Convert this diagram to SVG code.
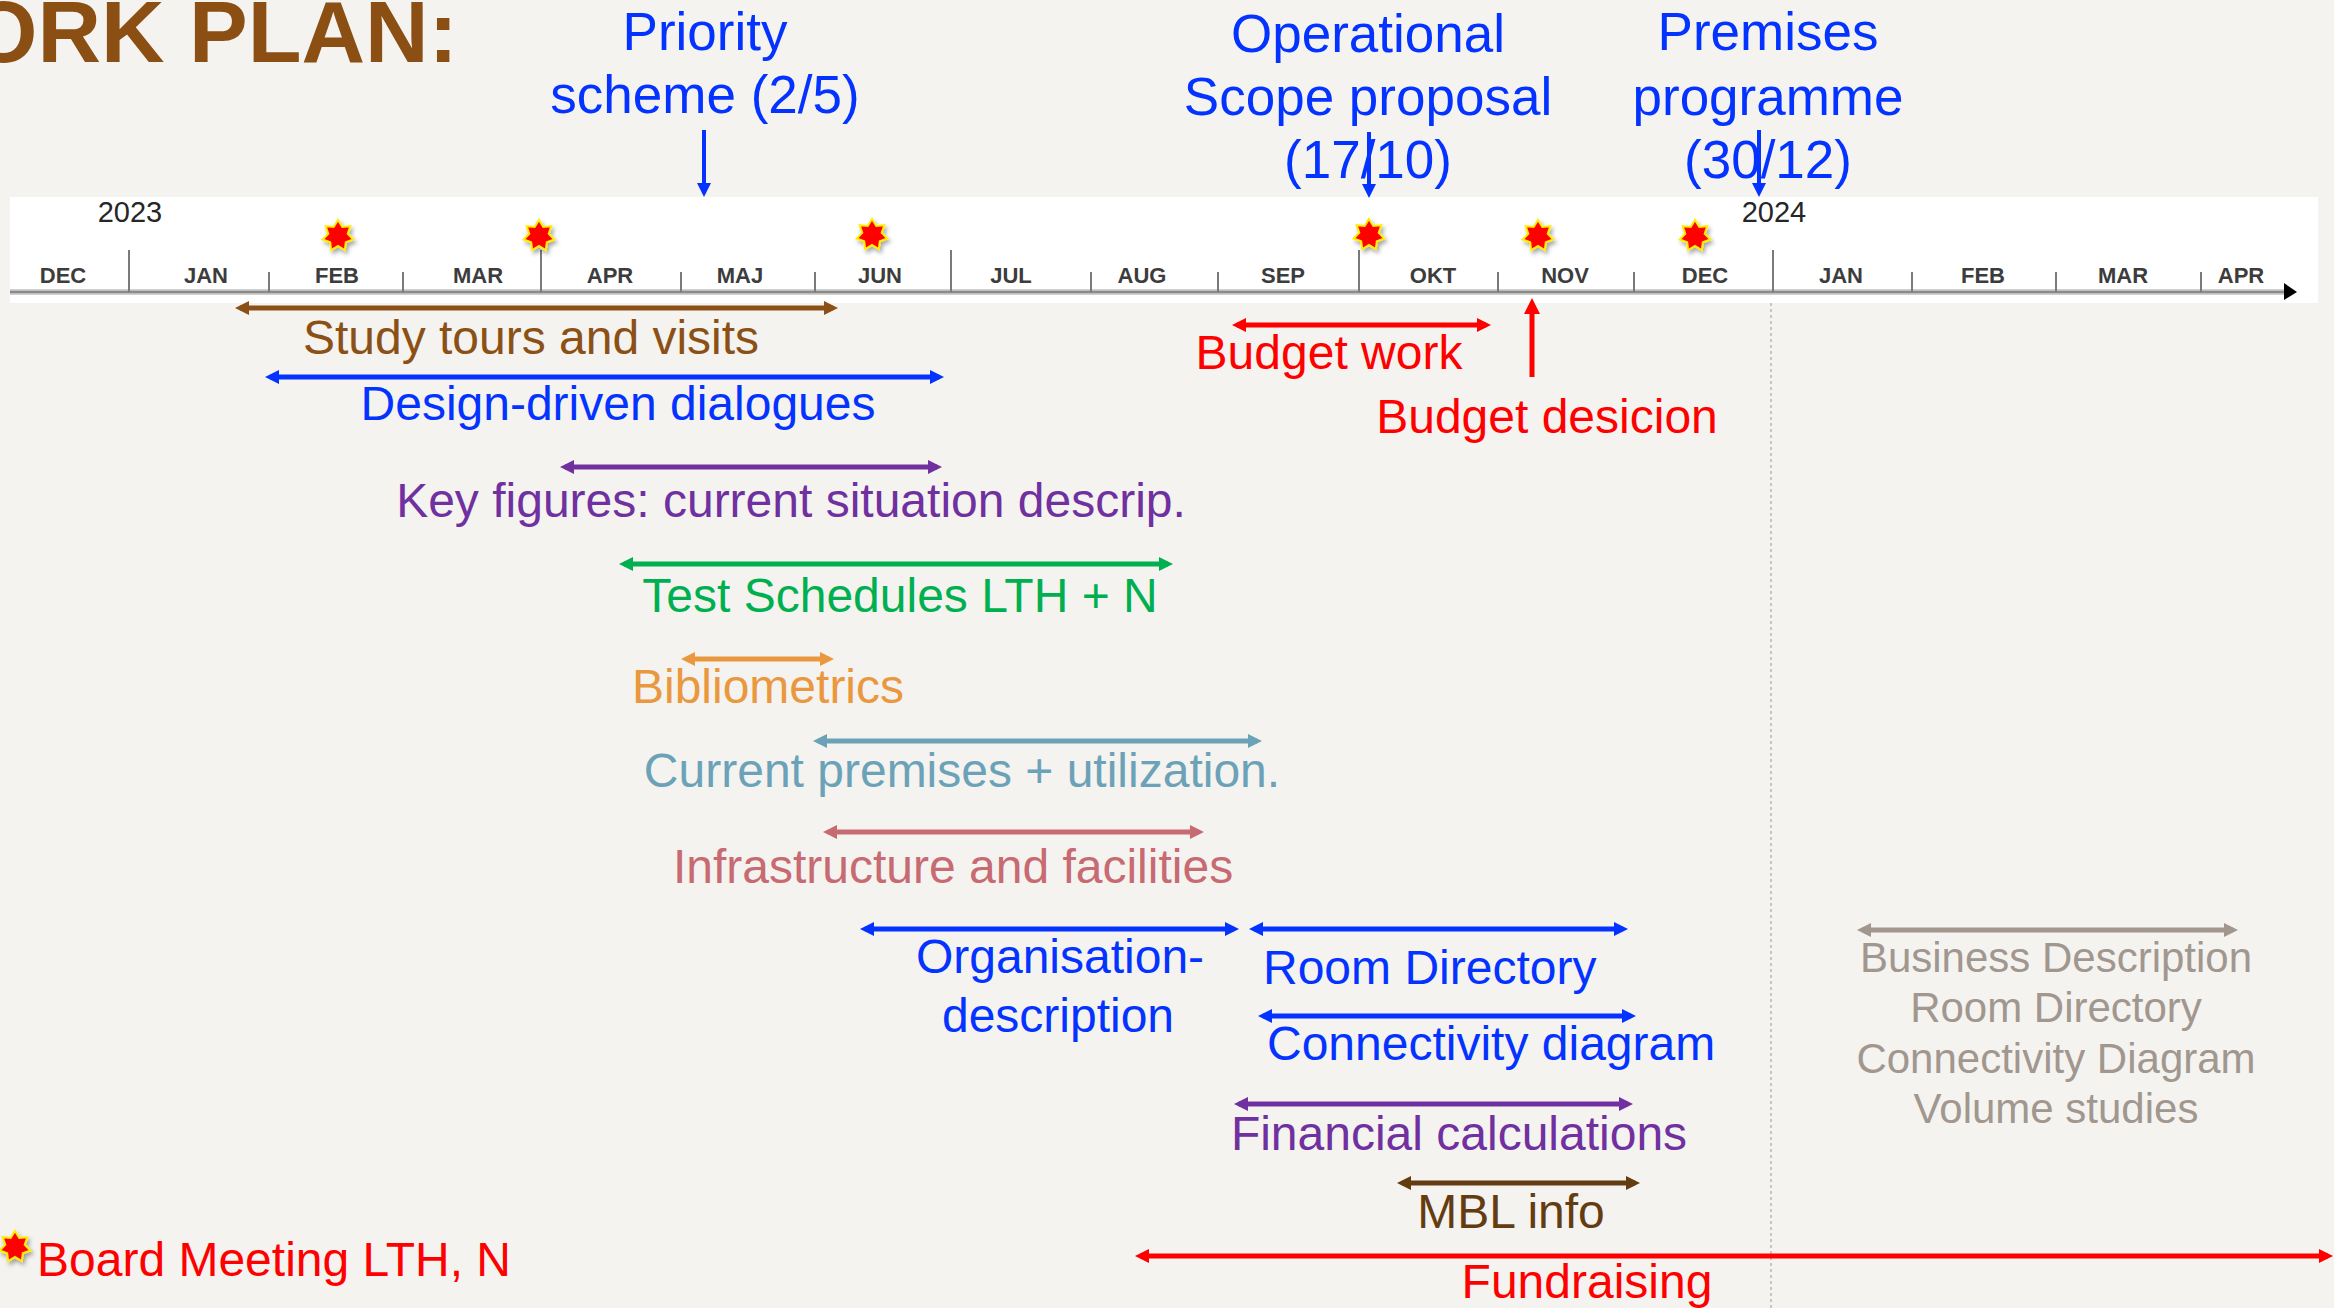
<svg xmlns="http://www.w3.org/2000/svg" width="2334" height="1308" viewBox="0 0 2334 1308">
<defs>
<style>
text{font-family:"Liberation Sans",Arial,sans-serif}
.lbl{font-size:48px;text-anchor:middle}
.top{font-size:53px;text-anchor:middle;fill:#0433ff}
.st{text-anchor:start}
.mon{font-size:22px;font-weight:bold;fill:#3c3c3c;text-anchor:middle}
.yr{font-size:29px;fill:#262626;text-anchor:middle}
.bar{stroke-width:5;fill:none}
.down{stroke-width:4;fill:none;stroke:#0433ff}
.star{fill:#ff0000;stroke:#ffee00;stroke-width:2;filter:url(#sh)}
.blue{fill:#0433ff}.red{fill:#ff0000}.brown{fill:#8b5016}.purple{fill:#7030a0}.green{fill:#00b050}
.orange{fill:#ea983f}.teal{fill:#6ca2b8}.rose{fill:#c86a72}.gray{fill:#a1978f}.dbrown{fill:#643c12}
.tick{stroke:#7a7a7a;stroke-width:2}
</style>
<filter id="sh" x="-50%" y="-50%" width="200%" height="200%"><feDropShadow dx="2" dy="3" stdDeviation="2" flood-color="#000" flood-opacity="0.35"/></filter>
<path id="star7" d="M0,-16 L4.3,-9 L12.3,-9.8 L9.7,-2.2 L15.3,3.5 L7.8,6.2 L6.8,14.2 L0,10 L-6.8,14.2 L-7.8,6.2 L-15.3,3.5 L-9.7,-2.2 L-12.3,-9.8 L-4.3,-9 Z"/>
<marker id="a-blue" viewBox="0 0 14 14" refX="9" refY="7" markerWidth="14" markerHeight="14" markerUnits="userSpaceOnUse" orient="auto-start-reverse"><path d="M0,0 L14,7 L0,14 z" fill="#0433ff"/></marker>
<marker id="a-red" viewBox="0 0 14 14" refX="9" refY="7" markerWidth="14" markerHeight="14" markerUnits="userSpaceOnUse" orient="auto-start-reverse"><path d="M0,0 L14,7 L0,14 z" fill="#ff0000"/></marker>
<marker id="a-redL" viewBox="0 0 16 16" refX="10" refY="8" markerWidth="16" markerHeight="16" markerUnits="userSpaceOnUse" orient="auto-start-reverse"><path d="M0,0 L16,8 L0,16 z" fill="#ff0000"/></marker>
<marker id="a-brown" viewBox="0 0 14 14" refX="9" refY="7" markerWidth="14" markerHeight="14" markerUnits="userSpaceOnUse" orient="auto-start-reverse"><path d="M0,0 L14,7 L0,14 z" fill="#8b5016"/></marker>
<marker id="a-purple" viewBox="0 0 14 14" refX="9" refY="7" markerWidth="14" markerHeight="14" markerUnits="userSpaceOnUse" orient="auto-start-reverse"><path d="M0,0 L14,7 L0,14 z" fill="#7030a0"/></marker>
<marker id="a-green" viewBox="0 0 14 14" refX="9" refY="7" markerWidth="14" markerHeight="14" markerUnits="userSpaceOnUse" orient="auto-start-reverse"><path d="M0,0 L14,7 L0,14 z" fill="#00b050"/></marker>
<marker id="a-orange" viewBox="0 0 14 14" refX="9" refY="7" markerWidth="14" markerHeight="14" markerUnits="userSpaceOnUse" orient="auto-start-reverse"><path d="M0,0 L14,7 L0,14 z" fill="#ea983f"/></marker>
<marker id="a-teal" viewBox="0 0 14 14" refX="9" refY="7" markerWidth="14" markerHeight="14" markerUnits="userSpaceOnUse" orient="auto-start-reverse"><path d="M0,0 L14,7 L0,14 z" fill="#6ca2b8"/></marker>
<marker id="a-rose" viewBox="0 0 14 14" refX="9" refY="7" markerWidth="14" markerHeight="14" markerUnits="userSpaceOnUse" orient="auto-start-reverse"><path d="M0,0 L14,7 L0,14 z" fill="#c86a72"/></marker>
<marker id="a-gray" viewBox="0 0 14 14" refX="9" refY="7" markerWidth="14" markerHeight="14" markerUnits="userSpaceOnUse" orient="auto-start-reverse"><path d="M0,0 L14,7 L0,14 z" fill="#a1978f"/></marker>
<marker id="a-dbrown" viewBox="0 0 14 14" refX="9" refY="7" markerWidth="14" markerHeight="14" markerUnits="userSpaceOnUse" orient="auto-start-reverse"><path d="M0,0 L14,7 L0,14 z" fill="#643c12"/></marker>
</defs>

<rect width="2334" height="1308" fill="#f4f3ef"/>

<g id="title"><text x="-31" y="62" font-size="88" font-weight="bold" fill="#8b4f14">ORK PLAN:</text></g>

<line x1="1771" y1="303" x2="1771" y2="1308" stroke="#c9c5bf" stroke-width="2" stroke-dasharray="3 3"/>

<g id="timeline">
<rect x="10" y="197" width="2308" height="106" fill="#ffffff"/>
<line x1="10" y1="292" x2="2288" y2="292" stroke="#d0d0d0" stroke-width="6"/>
<line x1="10" y1="292" x2="2288" y2="292" stroke="#8a8a8a" stroke-width="2.5"/>
<path d="M2284,283 L2297,292 L2284,300 z" fill="#000"/>
<g class="tick">
<line x1="129" y1="250" x2="129" y2="292"/><line x1="541" y1="250" x2="541" y2="292"/><line x1="951" y1="250" x2="951" y2="292"/><line x1="1359" y1="250" x2="1359" y2="292"/><line x1="1773" y1="250" x2="1773" y2="292"/>
<line x1="269" y1="272" x2="269" y2="292"/><line x1="403" y1="272" x2="403" y2="292"/><line x1="681" y1="272" x2="681" y2="292"/><line x1="815" y1="272" x2="815" y2="292"/><line x1="1091" y1="272" x2="1091" y2="292"/><line x1="1218" y1="272" x2="1218" y2="292"/><line x1="1498" y1="272" x2="1498" y2="292"/><line x1="1634" y1="272" x2="1634" y2="292"/><line x1="1912" y1="272" x2="1912" y2="292"/><line x1="2056" y1="272" x2="2056" y2="292"/><line x1="2201" y1="272" x2="2201" y2="292"/>
</g>
<text class="yr" x="130" y="222">2023</text>
<text class="yr" x="1774" y="222">2024</text>
<text class="mon" x="63" y="283">DEC</text>
<text class="mon" x="206" y="283">JAN</text>
<text class="mon" x="337" y="283">FEB</text>
<text class="mon" x="478" y="283">MAR</text>
<text class="mon" x="610" y="283">APR</text>
<text class="mon" x="740" y="283">MAJ</text>
<text class="mon" x="880" y="283">JUN</text>
<text class="mon" x="1011" y="283">JUL</text>
<text class="mon" x="1142" y="283">AUG</text>
<text class="mon" x="1283" y="283">SEP</text>
<text class="mon" x="1433" y="283">OKT</text>
<text class="mon" x="1565" y="283">NOV</text>
<text class="mon" x="1705" y="283">DEC</text>
<text class="mon" x="1841" y="283">JAN</text>
<text class="mon" x="1983" y="283">FEB</text>
<text class="mon" x="2123" y="283">MAR</text>
<text class="mon" x="2241" y="283">APR</text>
</g>

<g id="board-meetings">
<use href="#star7" class="star" x="338" y="236"/>
<use href="#star7" class="star" x="539" y="236"/>
<use href="#star7" class="star" x="872" y="235"/>
<use href="#star7" class="star" x="1369" y="235"/>
<use href="#star7" class="star" x="1538" y="236"/>
<use href="#star7" class="star" x="1695" y="236"/>
</g>

<g id="connectors">
<line class="down" x1="704" y1="130" x2="704" y2="192" marker-end="url(#a-blue)"/>
<line class="down" x1="1369" y1="132" x2="1369" y2="193" marker-end="url(#a-blue)"/>
<line class="down" x1="1759" y1="130" x2="1759" y2="192" marker-end="url(#a-blue)"/>
<line class="bar" stroke="#ff0000" stroke-width="4" x1="1532" y1="377" x2="1532" y2="304" marker-end="url(#a-redL)"/>
<line class="bar" stroke="#8b5016" x1="240" y1="308" x2="833" y2="308" marker-start="url(#a-brown)" marker-end="url(#a-brown)"/>
<line class="bar" stroke="#0433ff" x1="270" y1="377" x2="939" y2="377" marker-start="url(#a-blue)" marker-end="url(#a-blue)"/>
<line class="bar" stroke="#7030a0" x1="565" y1="467" x2="937" y2="467" marker-start="url(#a-purple)" marker-end="url(#a-purple)"/>
<line class="bar" stroke="#00b050" x1="624" y1="564" x2="1168" y2="564" marker-start="url(#a-green)" marker-end="url(#a-green)"/>
<line class="bar" stroke="#ea983f" x1="686" y1="659" x2="829" y2="659" marker-start="url(#a-orange)" marker-end="url(#a-orange)"/>
<line class="bar" stroke="#6ca2b8" x1="818" y1="741" x2="1257" y2="741" marker-start="url(#a-teal)" marker-end="url(#a-teal)"/>
<line class="bar" stroke="#c86a72" x1="828" y1="832" x2="1199" y2="832" marker-start="url(#a-rose)" marker-end="url(#a-rose)"/>
<line class="bar" stroke="#0433ff" x1="865" y1="929" x2="1234" y2="929" marker-start="url(#a-blue)" marker-end="url(#a-blue)"/>
<line class="bar" stroke="#0433ff" x1="1254" y1="929" x2="1623" y2="929" marker-start="url(#a-blue)" marker-end="url(#a-blue)"/>
<line class="bar" stroke="#0433ff" x1="1263" y1="1016" x2="1631" y2="1016" marker-start="url(#a-blue)" marker-end="url(#a-blue)"/>
<line class="bar" stroke="#7030a0" x1="1239" y1="1104" x2="1628" y2="1104" marker-start="url(#a-purple)" marker-end="url(#a-purple)"/>
<line class="bar" stroke="#643c12" x1="1402" y1="1183" x2="1635" y2="1183" marker-start="url(#a-dbrown)" marker-end="url(#a-dbrown)"/>
<line class="bar" stroke="#ff0000" x1="1140" y1="1256" x2="2328" y2="1256" marker-start="url(#a-red)" marker-end="url(#a-red)"/>
<line class="bar" stroke="#ff0000" x1="1237" y1="325" x2="1486" y2="325" marker-start="url(#a-red)" marker-end="url(#a-red)"/>
<line class="bar" stroke="#a1978f" x1="1862" y1="930" x2="2233" y2="930" marker-start="url(#a-gray)" marker-end="url(#a-gray)"/>
</g>

<g id="priority-scheme"><text class="top" x="705" y="50">Priority</text><text class="top" x="705" y="113">scheme (2/5)</text></g>
<g id="operational-scope"><text class="top" x="1368" y="52">Operational</text><text class="top" x="1368" y="115">Scope proposal</text><text class="top" x="1368" y="178">(17/10)</text></g>
<g id="premises-programme"><text class="top" x="1768" y="50">Premises</text><text class="top" x="1768" y="115">programme</text><text class="top" x="1768" y="178">(30/12)</text></g>
<g id="study-tours"><text class="lbl brown" x="531" y="354">Study tours and visits</text></g>
<g id="design-dialogues"><text class="lbl blue" x="618" y="420">Design-driven dialogues</text></g>
<g id="key-figures"><text class="lbl purple" x="791" y="517">Key figures: current situation descrip.</text></g>
<g id="test-schedules"><text class="lbl green" x="900" y="612">Test Schedules LTH + N</text></g>
<g id="bibliometrics"><text class="lbl orange" x="768" y="703">Bibliometrics</text></g>
<g id="current-premises"><text class="lbl teal" x="962" y="787">Current premises + utilization.</text></g>
<g id="infrastructure"><text class="lbl rose" x="953" y="883">Infrastructure and facilities</text></g>
<g id="organisation"><text class="lbl blue" x="1060" y="973">Organisation-</text><text class="lbl blue" x="1058" y="1032">description</text></g>
<g id="room-directory"><text class="lbl blue st" x="1263" y="984">Room Directory</text></g>
<g id="connectivity"><text class="lbl blue st" x="1267" y="1060">Connectivity diagram</text></g>
<g id="financial"><text class="lbl purple" x="1459" y="1150">Financial calculations</text></g>
<g id="mbl-info"><text class="lbl dbrown" x="1511" y="1228">MBL info</text></g>
<g id="fundraising"><text class="lbl red" x="1587" y="1298">Fundraising</text></g>
<g id="budget-work"><text class="lbl red" x="1329" y="369">Budget work</text></g>
<g id="budget-decision"><text class="lbl red" x="1547" y="433">Budget desicion</text></g>
<g id="next-phase" font-size="42" text-anchor="middle" class="gray">
<text x="2056" y="972" font-size="42">Business Description</text>
<text x="2056" y="1022" font-size="42">Room Directory</text>
<text x="2056" y="1073" font-size="42">Connectivity Diagram</text>
<text x="2056" y="1123" font-size="42">Volume studies</text>
</g>
<g id="legend">
<use href="#star7" class="star" x="15" y="1247"/>
<text class="lbl red st" x="37" y="1276">Board Meeting LTH, N</text>
</g>
</svg>
